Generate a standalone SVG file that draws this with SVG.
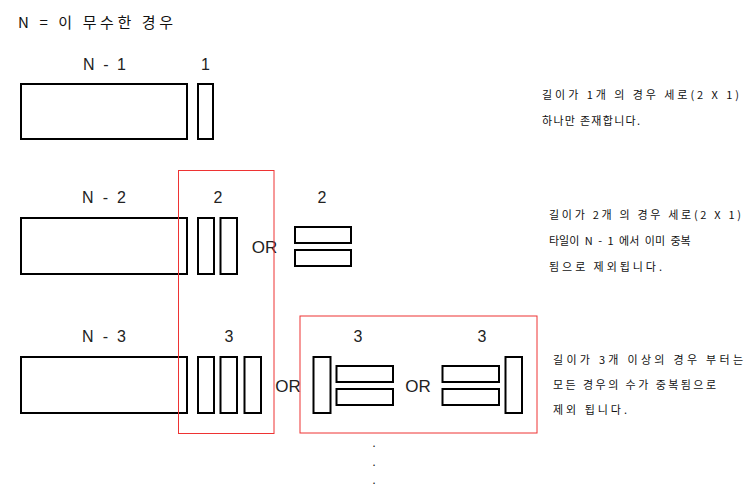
<svg xmlns="http://www.w3.org/2000/svg" width="750" height="492" viewBox="0 0 750 492">
<style>
.t{fill:none;stroke:#000;stroke-width:2}
.r{fill:none;stroke:#ee3333;stroke-width:1}
.lb{font-family:"Liberation Sans",Arial,sans-serif;font-size:16px;fill:#222;text-anchor:middle}
.or{font-family:"Liberation Sans",Arial,sans-serif;font-size:17px;fill:#222;text-anchor:middle}
.kr{font-family:"Noto Sans CJK KR","Liberation Sans",sans-serif;font-size:11px;fill:#111}
.ti{font-family:"Noto Sans CJK KR","Liberation Sans",sans-serif;font-size:15px;fill:#111}
</style>
<rect width="750" height="492" fill="#fff"/>
<text class="ti" x="18" y="28" textLength="155" lengthAdjust="spacing">N = 이 무수한 경우</text>

<g id="row1">
<text class="lb" x="104.5" y="70" textLength="43" lengthAdjust="spacing">N - 1</text>
<text class="lb" x="205.5" y="70">1</text>
<rect class="t" x="21" y="84" width="166" height="55"/>
<rect class="t" x="198" y="84" width="15" height="55"/>
</g>

<g id="row2">
<text class="lb" x="104" y="203" textLength="44" lengthAdjust="spacing">N - 2</text>
<text class="lb" x="218" y="203">2</text>
<rect class="t" x="21" y="218" width="166" height="56"/>
<rect class="t" x="198" y="218" width="16" height="56"/>
<rect class="t" x="220.5" y="218" width="16.5" height="56"/>
<text class="or" x="264.5" y="253">OR</text>
<text class="lb" x="322" y="203">2</text>
<rect class="t" x="295" y="227" width="56" height="16"/>
<rect class="t" x="295" y="250" width="56" height="16"/>
</g>

<g id="row3">
<text class="lb" x="104" y="342" textLength="44" lengthAdjust="spacing">N - 3</text>
<text class="lb" x="229" y="342">3</text>
<rect class="t" x="21" y="357" width="166" height="56"/>
<rect class="t" x="198" y="357" width="16" height="56"/>
<rect class="t" x="220.5" y="357" width="16.5" height="56"/>
<rect class="t" x="244.5" y="357" width="16.5" height="56"/>
<text class="or" x="288" y="392">OR</text>
<text class="lb" x="358" y="342">3</text>
<rect class="t" x="313.5" y="357" width="17" height="56"/>
<rect class="t" x="336.5" y="366" width="56.5" height="16"/>
<rect class="t" x="336.5" y="389" width="56.5" height="16"/>
<text class="or" x="418" y="392">OR</text>
<text class="lb" x="482" y="342">3</text>
<rect class="t" x="442.5" y="366" width="56.5" height="16"/>
<rect class="t" x="442.5" y="389" width="56.5" height="16"/>
<rect class="t" x="505.5" y="357" width="16.5" height="56"/>
</g>

<g id="highlights">
<rect class="r" x="178.5" y="170.5" width="95.5" height="263"/>
<rect class="r" x="300" y="316" width="237" height="117"/>
</g>

<g id="dots" class="kr">
<text x="372.5" y="447">.</text>
<text x="372.5" y="466">.</text>
<text x="372.5" y="484">.</text>
</g>

<g id="notes" class="kr">
<text x="542" y="99" textLength="197" lengthAdjust="spacing">길이가 1개 의 경우 세로(2 X 1)</text>
<text x="542" y="125" textLength="98" lengthAdjust="spacing">하나만 존재합니다.</text>
<text x="549" y="219" textLength="192" lengthAdjust="spacing">길이가 2개 의 경우 세로(2 X 1)</text>
<text x="549" y="245" style="word-spacing:3px">타일이 N - 1 에서 이미 중복</text>
<text x="549" y="271" textLength="113" lengthAdjust="spacing">됨으로 제외됩니다.</text>
<text x="553" y="364" textLength="190" lengthAdjust="spacing">길이가 3개 이상의 경우 부터는</text>
<text x="553" y="389" textLength="163" lengthAdjust="spacing">모든 경우의 수가 중복됨으로</text>
<text x="553" y="414" textLength="74" lengthAdjust="spacing">제외 됩니다.</text>
</g>
</svg>
